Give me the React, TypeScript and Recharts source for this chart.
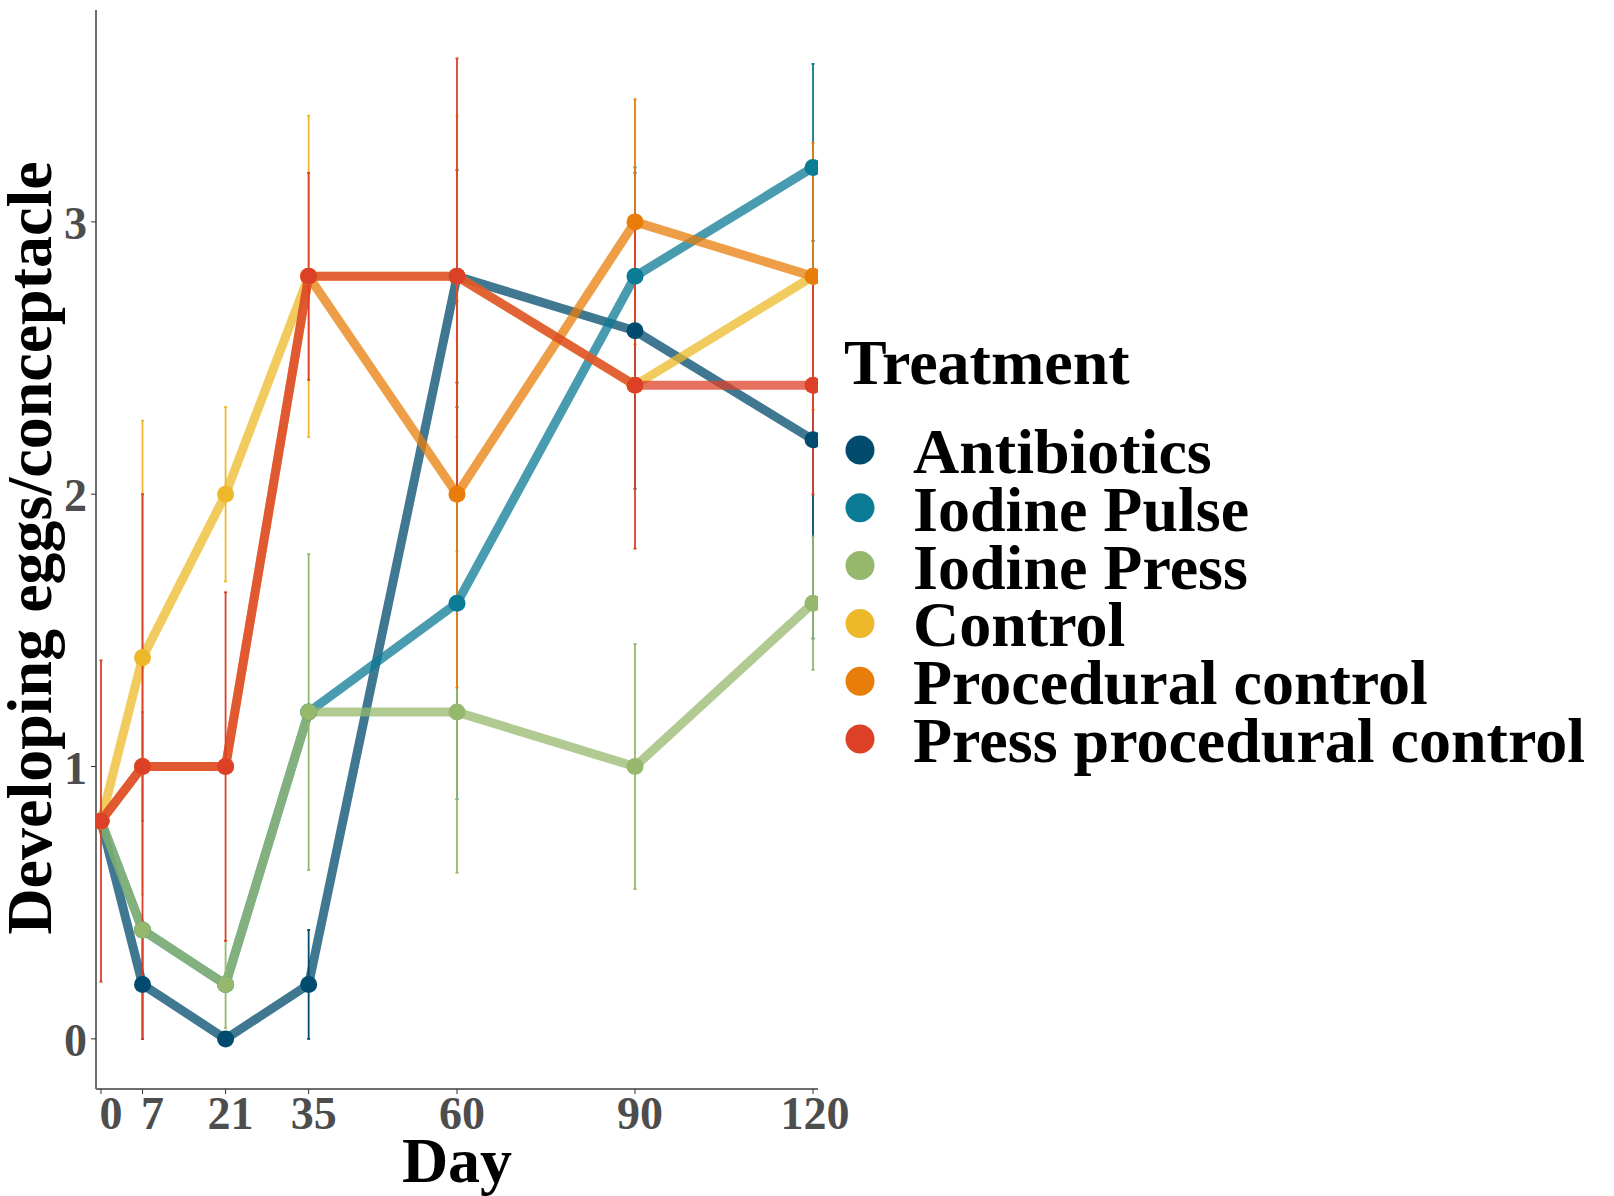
import { LineChart, Line, XAxis, YAxis, ErrorBar } from "recharts";

// sampling days and axis ticks
const days = [0, 7, 21, 35, 60, 90, 120];
const yTicks = [0, 1, 2, 3];

const treatments = [
  "Antibiotics",
  "Iodine Pulse",
  "Iodine Press",
  "Control",
  "Procedural control",
  "Press procedural control",
];
const colors = ["#004B6E", "#0C7B96", "#95B86C", "#EDB92A", "#E87D0A", "#DC4128"];

// mean developing eggs per conceptacle, one value per day
const antibiotics = [0.8, 0.2, 0, 0.2, 2.8, 2.6, 2.2];
const iodinePulse = [0.8, 0.4, 0.2, 1.2, 1.6, 2.8, 3.2];
const iodinePress = [0.8, 0.4, 0.2, 1.2, 1.2, 1.0, 1.6];
const control = [0.8, 1.4, 2.0, 2.8, 2.8, 2.4, 2.8];
const proceduralControl = [0.8, 1.0, 1.0, 2.8, 2.0, 3.0, 2.8];
const pressProceduralControl = [0.8, 1.0, 1.0, 2.8, 2.8, 2.4, 2.4];

// standard errors (symmetric)
const antibioticsSe = [0, 0.2, 0, 0.2, 0.39, 0.58, 0.73];
const iodinePulseSe = [0, 0, 0, 0, 0.72, 0.4, 0.38];
const iodinePressSe = [0, 0, 0.16, 0.58, 0.59, 0.45, 0.245];
const controlSe = [0, 0.87, 0.32, 0.59, 0.59, 0, 0];
const proceduralControlSe = [0, 0.2, 0, 0, 0.71, 0.45, 0.49];
const pressProceduralControlSe = [0.59, 1.0, 0.64, 0.38, 0.8, 0.6, 0.4];

const means = [antibiotics, iodinePulse, iodinePress, control, proceduralControl, pressProceduralControl];
const errors = [antibioticsSe, iodinePulseSe, iodinePressSe, controlSe, proceduralControlSe, pressProceduralControlSe];

const series = treatments.map((name, i) => ({
  name,
  color: colors[i],
  data: days.map((day, j) => ({ day, value: means[i][j], se: errors[i][j] })),
}));

const FONT = "'Liberation Serif', 'Times New Roman', serif";
const AXIS_GREY = "#6E6E6E";

function XTick({ x, y, payload }: any) {
  const v = payload.value;
  const nudge = v === 0 || v === 7 ? 10 : v === 120 ? 2 : 5;
  return (
    <text x={x + nudge} y={y} dy={33} textAnchor="middle" fontFamily={FONT} fontWeight="bold" fontSize={46} fill="#4D4D4D">
      {v}
    </text>
  );
}

function YTick({ x, y, payload }: any) {
  return (
    <text x={x - 2} y={y} dy={17} textAnchor="end" fontFamily={FONT} fontWeight="bold" fontSize={46} fill="#4D4D4D">
      {payload.value}
    </text>
  );
}

function Titles() {
  return (
    <svg width={1614} height={1196} style={{ position: "absolute", left: 0, top: 0, pointerEvents: "none" }}>
      <text
        x={51}
        y={548}
        transform="rotate(-90, 51, 548)"
        textAnchor="middle"
        fontFamily={FONT}
        fontWeight="bold"
        fontSize={64}
        fill="#000"
      >
        Developing eggs/conceptacle
      </text>
      <text x={457} y={1182} textAnchor="middle" fontFamily={FONT} fontWeight="bold" fontSize={64} fill="#000">
        Day
      </text>
      <text x={844} y={384} fontFamily={FONT} fontWeight="bold" fontSize={64} fill="#000">
        Treatment
      </text>
      {series.map((s, i) => (
        <g key={s.name}>
          <circle cx={860} cy={450 + i * 57.8} r={14.5} fill={s.color} />
          <text x={913} y={473 + i * 57.8} fontFamily={FONT} fontWeight="bold" fontSize={64} fill="#000">
            {s.name}
          </text>
        </g>
      ))}
    </svg>
  );
}

export default function App() {
  return (
    <div style={{ position: "absolute", left: 0, top: 0, width: 1614, height: 1196, background: "#fff" }}>
      <LineChart width={1614} height={1196} margin={{ top: 10, right: 796, bottom: 0, left: 0 }}>
        <XAxis
          type="number"
          dataKey="day"
          domain={[-0.84, 120.84]}
          allowDataOverflow
          ticks={days}
          interval={0}
          height={107}
          tickSize={5}
          tickMargin={2}
          tick={<XTick />}
          axisLine={{ stroke: AXIS_GREY, strokeWidth: 2 }}
          tickLine={{ stroke: "#333", strokeWidth: 1 }}
        />
        <YAxis
          type="number"
          domain={[-0.184, 3.778]}
          allowDataOverflow
          ticks={yTicks}
          interval={0}
          width={96}
          tickSize={5}
          tickMargin={2}
          tick={<YTick />}
          axisLine={{ stroke: AXIS_GREY, strokeWidth: 2 }}
          tickLine={{ stroke: "#333", strokeWidth: 1 }}
        />
        {series.map((s) => (
          <Line
            key={s.name}
            name={s.name}
            data={s.data}
            dataKey="value"
            type="linear"
            stroke={s.color}
            strokeOpacity={0.75}
            strokeWidth={9}
            strokeLinejoin="round"
            dot={{ r: 8.5, fill: s.color, stroke: "none", fillOpacity: 1 }}
            activeDot={false}
            isAnimationActive={false}
          >
            <ErrorBar dataKey="se" direction="y" width={1.5} stroke={s.color} strokeWidth={1.8} isAnimationActive={false} />
          </Line>
        ))}
      </LineChart>
      <Titles />
    </div>
  );
}
